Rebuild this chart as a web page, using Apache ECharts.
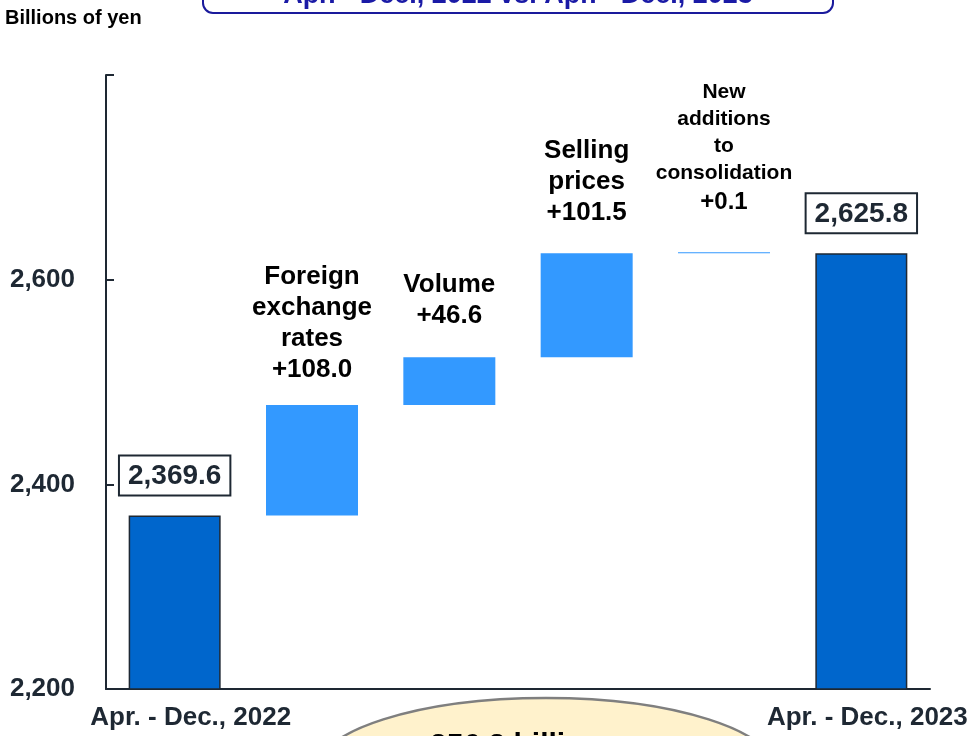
<!DOCTYPE html>
<html>
<head>
<meta charset="utf-8">
<script src="https://cdn.jsdelivr.net/npm/echarts@6/dist/echarts.min.js"></script>
<style>
  html, body { margin: 0; padding: 0; background: #fff; }
  #chart { width: 971px; height: 736px; }
</style>
</head>
<body>
<div id="chart"></div>
<script>
// waterfall data, billions of yen
var categories = ['Apr. - Dec., 2022', 'Foreign\nexchange\nrates', 'Volume', 'Selling\nprices', 'New\nadditions\nto\nconsolidation', 'Apr. - Dec., 2023'];
var totals = [2369.6, '-', '-', '-', '-', 2625.8];
var deltas = ['-', 108.0, 46.6, 101.5, 0.1, '-'];
var yTicks = [2200, 2400, 2600, 2800];
var labelGaps = [0, 20, 26, 25, 34, 0];   // space between each label and its bar

var textDark = '#1e2833';
var font = '"Liberation Sans", Arial, sans-serif';

// invisible base under each change bar = running total
var bases = [];
var running = 0;
for (var i = 0; i < categories.length; i++) {
    if (totals[i] !== '-') {
        running = totals[i];
        bases.push('-');
    } else {
        bases.push(running);
        running = Math.round((running + deltas[i]) * 10) / 10;
    }
}

var deltaData = deltas.map(function (v, i) {
    if (v === '-') return '-';
    var item = { value: v, label: { distance: labelGaps[i] } };
    if (i === 4) {
        item.label.formatter = '{s|' + categories[i] + '}\n{b|+' + v.toFixed(1) + '}';
    }
    return item;
});

var myChart = echarts.init(document.getElementById('chart'));
var option = {
    animation: false,
    textStyle: { fontFamily: font },
    grid: { left: 106, right: 41, top: 75, bottom: 47 },
    xAxis: {
        type: 'category',
        data: categories,
        axisLine: { lineStyle: { color: textDark, width: 2 } },
        axisTick: { show: false },
        axisLabel: {
            interval: 0,
            margin: 16,
            fontSize: 27,
            fontWeight: 'bold',
            color: textDark,
            formatter: function (val, idx) {
                if (idx === 0) return '{l|' + val + '}';
                if (idx === categories.length - 1) return '{r|' + val + '}';
                return '';
            },
            rich: {
                l: { fontSize: 26, fontWeight: 'bold', color: textDark, padding: [0, 0, 0, 32] },
                r: { fontSize: 26, fontWeight: 'bold', color: textDark, padding: [0, 0, 0, 12] }
            }
        }
    },
    yAxis: {
        type: 'value',
        min: yTicks[0],
        max: yTicks[yTicks.length - 1],
        interval: 200,
        splitLine: { show: false },
        axisLine: { show: true, lineStyle: { color: textDark, width: 2 } },
        axisTick: { show: true, inside: true, length: 8, lineStyle: { color: textDark, width: 2 } },
        axisLabel: {
            margin: 31,
            fontSize: 26,
            fontWeight: 'bold',
            color: textDark,
            formatter: function (v) {
                if (v === yTicks[yTicks.length - 1]) return '';
                return v.toLocaleString('en-US');
            }
        }
    },
    series: [
        {
            name: 'base',
            type: 'bar',
            stack: 'w',
            barWidth: 92,
            silent: true,
            itemStyle: { color: 'transparent' },
            data: bases
        },
        {
            name: 'change',
            type: 'bar',
            stack: 'w',
            barWidth: 92,
            barMinHeight: 1,
            itemStyle: { color: '#3399FF' },
            label: {
                show: true,
                position: 'top',
                fontSize: 26,
                fontWeight: 'bold',
                lineHeight: 31,
                color: '#000',
                align: 'center',
                formatter: function (p) {
                    return categories[p.dataIndex] + '\n+' + p.value.toFixed(1);
                },
                rich: {
                    s: { fontSize: 21, fontWeight: 'bold', lineHeight: 27, color: '#000', align: 'center' },
                    b: { fontSize: 24, fontWeight: 'bold', lineHeight: 32, color: '#000', align: 'center' }
                }
            },
            data: deltaData
        },
        {
            name: 'total',
            type: 'bar',
            stack: 'w',
            barWidth: 92,
            itemStyle: { color: '#0066CC', borderColor: textDark, borderWidth: 1.5 },
            label: {
                show: true,
                position: 'top',
                distance: 21,
                fontSize: 28,
                fontWeight: 'bold',
                color: textDark,
                backgroundColor: '#fff',
                borderColor: textDark,
                borderWidth: 2,
                padding: [6, 8, 4, 8],
                formatter: function (p) {
                    return p.value.toLocaleString('en-US', { minimumFractionDigits: 1, maximumFractionDigits: 1 });
                }
            },
            data: totals
        }
    ],
    graphic: [
        {
            type: 'text',
            left: 5,
            top: 8,
            style: { text: 'Billions of yen', fontSize: 20, fontWeight: 'bold', fill: '#000', fontFamily: font }
        },
        {
            type: 'rect',
            shape: { x: 203, y: -42, width: 630, height: 55, r: 10 },
            style: { fill: '#fff', stroke: '#1a1a9c', lineWidth: 2 }
        },
        {
            type: 'text',
            x: 518,
            y: -4,
            style: {
                text: 'Apr. - Dec., 2022 vs. Apr. - Dec., 2023',
                fontSize: 27, fontWeight: 'bold', fill: '#1a1aa6', fontFamily: font,
                align: 'center', verticalAlign: 'middle'
            }
        },
        {
            type: 'ellipse',
            shape: { cx: 546, cy: 771, rx: 230, ry: 73 },
            style: { fill: '#FFF2CC', stroke: '#7f7f7f', lineWidth: 2.5 }
        },
        {
            type: 'text',
            x: 546,
            y: 731,
            style: {
                text: '256.2 billion yen',
                fontSize: 30, fontWeight: 'bold', fill: '#000', fontFamily: font,
                align: 'center', verticalAlign: 'top'
            }
        }
    ]
};
myChart.setOption(option);
</script>
</body>
</html>
